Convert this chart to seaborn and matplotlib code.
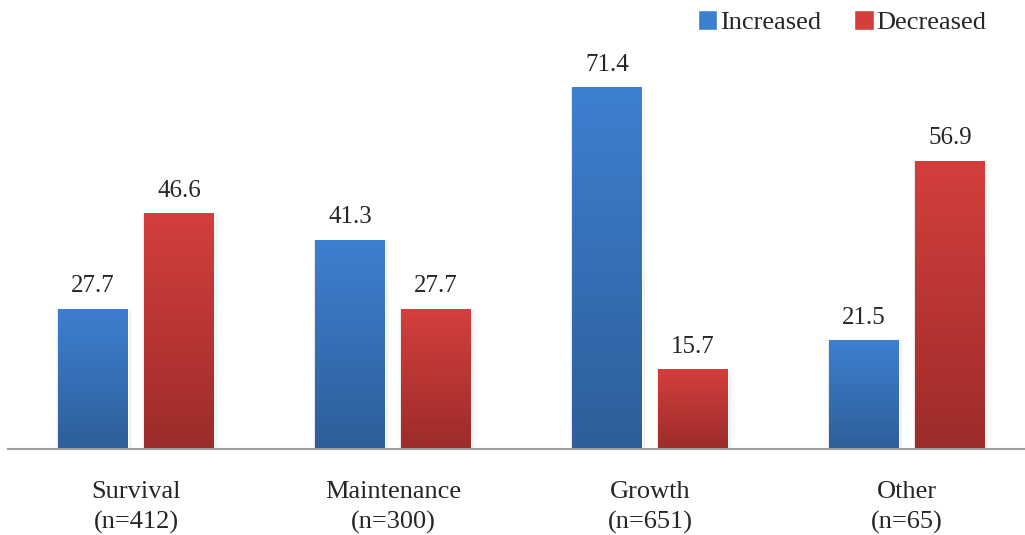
import numpy as np
import pandas as pd
import matplotlib
matplotlib.use("Agg")
import matplotlib.pyplot as plt
import seaborn as sns
from matplotlib.colors import LinearSegmentedColormap

# data
categories = ["Survival", "Maintenance", "Growth", "Other"]
sample_sizes = [412, 300, 651, 65]
increased = [27.7, 41.3, 71.4, 21.5]
decreased = [46.6, 27.7, 15.7, 56.9]
series = ["Increased", "Decreased"]

tick_labels = [f"{c}\n(n={n})" for c, n in zip(categories, sample_sizes)]

df = pd.DataFrame({
    "category": categories * 2,
    "series": [series[0]] * 4 + [series[1]] * 4,
    "value": increased + decreased,
})

# colours (top -> bottom gradient)
grad = {
    "Increased": ("#3d80d0", "#2e5e9a"),
    "Decreased": ("#d43f3c", "#9c2c2a"),
}
palette = {k: v[0] for k, v in grad.items()}

sns.set_style("white")
plt.rcParams["font.family"] = ["Liberation Serif", "DejaVu Serif"]

fig = plt.figure(figsize=(10.25, 5.35), dpi=100)
ax = fig.add_axes([7.5 / 1025, 1 - 449 / 535, 1 - 7.5 / 1025, 449 / 535])

sns.barplot(data=df, x="category", y="value", hue="series", order=categories,
            hue_order=series, palette=palette, width=0.67, gap=0.19,
            ax=ax, legend=False, saturation=1)

# gradient fill + soft shadow for each bar
for container, name in zip(ax.containers, series):
    cmap = LinearSegmentedColormap.from_list(name, [grad[name][1], grad[name][0]])
    for bar in container:
        x0, y0 = bar.get_x(), bar.get_y()
        w, h = bar.get_width(), bar.get_height()
        for k, a in enumerate([0.05, 0.03, 0.02]):
            d = 0.006 * (k + 1)
            ax.add_patch(plt.Rectangle((x0 - d * 0.5, y0 - 0.25 * (k + 1)), w + d * 1.5, h + 0.15 * (k + 1),
                                       color="black", alpha=a, lw=0, zorder=1))
        img = ax.imshow(np.linspace(0, 1, 256).reshape(-1, 1), cmap=cmap, aspect="auto",
                        extent=[x0, x0 + w, y0, y0 + h], origin="lower", zorder=3)
        img.set_clip_path(bar)
        bar.set_zorder(2)
    ax.bar_label(container, fmt="%.1f", padding=8, fontsize=18, zorder=5)

ax.set_xlim(-0.5, (1025 - 7.5) / 257 - 0.5)
ax.set_ylim(0, 449 / 5.07)

ax.set_xticks(range(len(categories)))
ax.set_xticklabels(tick_labels, fontsize=19, linespacing=1.45)
ax.tick_params(axis="x", length=0, pad=23)
ax.set_xlabel("")
ax.set_ylabel("")
ax.set_yticks([])
for s in ["top", "right", "left"]:
    ax.spines[s].set_visible(False)
ax.spines["bottom"].set_color("#a0a0a0")
ax.spines["bottom"].set_linewidth(1.5)
ax.spines["bottom"].set_zorder(6)

handles = [plt.Rectangle((0, 0), 1, 1, facecolor=grad[s][0]) for s in series]
fig.legend(handles, series, loc="upper right", bbox_to_anchor=(0.978, 1.01), ncol=2,
           frameon=False, fontsize=19, handlelength=0.75, handleheight=0.75,
           handletextpad=0.1, columnspacing=1.25, borderaxespad=0.2)

fig.savefig("out.png", dpi=100)
